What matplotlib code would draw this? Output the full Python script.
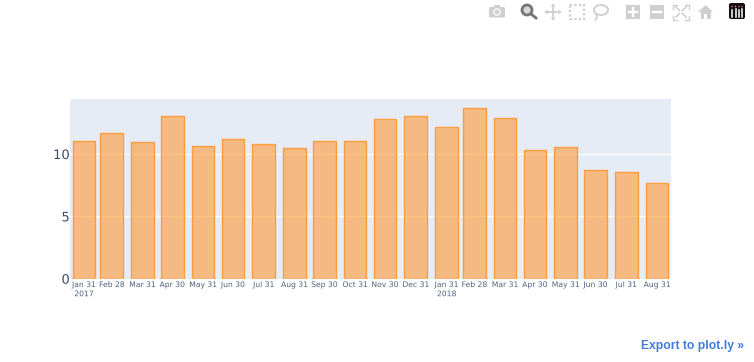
import matplotlib
matplotlib.use("Agg")
import matplotlib.pyplot as plt
import matplotlib.dates as mdates
import matplotlib.patheffects as pe
from matplotlib.patches import Rectangle, Circle, Polygon, FancyBboxPatch
from matplotlib.lines import Line2D
from matplotlib.transforms import blended_transform_factory, ScaledTranslation
import numpy as np
import pandas as pd

dates = ["2017-01-31","2017-02-28","2017-03-31","2017-04-30","2017-05-31","2017-06-30",
         "2017-07-31","2017-08-31","2017-09-30","2017-10-31","2017-11-30","2017-12-31",
         "2018-01-31","2018-02-28","2018-03-31","2018-04-30","2018-05-31","2018-06-30",
         "2018-07-31","2018-08-31"]
values = [11.02,11.66,10.96,13.02,10.64,11.18,10.78,10.50,11.07,11.02,12.81,13.02,
          12.14,13.69,12.89,10.32,10.59,8.69,8.56,7.65]
tick_labels = ["Jan 31","Feb 28","Mar 31","Apr 30","May 31","Jun 30","Jul 31","Aug 31",
               "Sep 30","Oct 31","Nov 30","Dec 31","Jan 31","Feb 28","Mar 31","Apr 30",
               "May 31","Jun 30","Jul 31","Aug 31"]
year_dates = ["2017-01-31", "2018-01-31"]
year_labels = ["2017", "2018"]
y_ticks = [0, 5, 10]

W, H = 754, 362
fig = plt.figure(figsize=(W/100, H/100), dpi=100, facecolor="white")
ax = fig.add_axes([70/W, 1-278.7/H, 601/W, 179.7/H], facecolor="#e5ecf6")

x = mdates.date2num(pd.to_datetime(dates))
ax.set_axisbelow(True)
ax.yaxis.grid(True, color="white", linewidth=1.0)
ax.xaxis.grid(False)
ax.bar(x, values, width=22.8, color=(1, 0.6, 0.2, 0.6),
       edgecolor=(1, 0.6, 0.2, 0.95), linewidth=1.0, zorder=3)
ax.set_xlim(x[0]-14, x[-1]+14)
ax.set_ylim(0, 14.41)
for s in ax.spines.values():
    s.set_visible(False)
ax.set_xticks(x)
ax.set_xticklabels(tick_labels, fontsize=5.5, color="#4f6280")
ax.set_yticks(y_ticks)
ax.set_yticklabels([str(v) for v in y_ticks], fontsize=9.4, color="#3a4d6b")
ax.tick_params(length=0, axis="both")
ax.tick_params(axis="x", pad=6.0)
ax.tick_params(axis="y", pad=0.2)
for lab in ax.get_xticklabels():
    lab.set_verticalalignment("baseline")
    lab.set_path_effects([pe.Normal()])
for lab in ax.get_yticklabels():
    lab.set_path_effects([pe.Normal()])

year_tr = blended_transform_factory(ax.transData, ax.transAxes) + \
    ScaledTranslation(0, -17.5/100, fig.dpi_scale_trans)
for yd, yl in zip(mdates.date2num(pd.to_datetime(year_dates)), year_labels):
    ax.text(yd, 0, yl, transform=year_tr, ha="center", va="baseline",
            fontsize=5.5, color="#4f6280", clip_on=False,
            path_effects=[pe.Normal()])

fig.text(744/W, 1-346.5/H, "Export to plot.ly »", ha="right", va="center",
         fontsize=8.7, color="#447adb", fontweight="bold", family="Liberation Sans")

# toolbar drawn in pixel coordinates
tb = fig.add_axes([0, 0, 1, 1], facecolor="none")
tb.set_xlim(0, W); tb.set_ylim(H, 0); tb.axis("off")
g = "#cfcfcf"; d = "#747474"
# camera
tb.add_patch(FancyBboxPatch((489, 7), 16, 10.5, boxstyle="round,pad=0,rounding_size=1.5", fc=g, ec="none"))
tb.add_patch(Rectangle((493.5, 5), 6, 2.5, fc=g, ec="none"))
tb.add_patch(Circle((497, 12), 3.8, fc="white", ec="none"))
tb.add_patch(Circle((497, 12), 2.5, fc=g, ec="none"))
# zoom
tb.add_patch(Circle((527, 10), 5, fc="#d8d8d8", ec=d, lw=2))
tb.add_line(Line2D([531, 536], [14, 18], color=d, lw=2))
# pan
tb.add_line(Line2D([546, 560], [12, 12], color=g, lw=1.3))
tb.add_line(Line2D([553, 553], [5, 19], color=g, lw=1.3))
for p in ([[553,3.5],[550.5,6.5],[555.5,6.5]],[[553,20.5],[550.5,17.5],[555.5,17.5]],
          [[544.5,12],[547.5,9.5],[547.5,14.5]],[[561.5,12],[558.5,9.5],[558.5,14.5]]):
    tb.add_patch(Polygon(p, fc=g, ec="none"))
# box select
tb.add_patch(Rectangle((570, 4.5), 14, 14, fc="none", ec=g, lw=1.6, ls=(0, (1, 1))))
# lasso
t = np.linspace(0, 2*np.pi, 50)
tb.plot(601+7*np.cos(t), 10+5*np.sin(t), color=g, lw=1.4)
tb.add_line(Line2D([596, 597, 595], [14, 18, 20], color=g, lw=1.2))
# plus / minus
for cx in (633, 657):
    tb.add_patch(Rectangle((cx-7, 5), 14, 14, fc=g, ec="none"))
    tb.add_line(Line2D([cx-4, cx+4], [12, 12], color="white", lw=1.7))
tb.add_line(Line2D([633, 633], [8, 16], color="white", lw=1.7))
# autoscale
for sx, sy in ((-1,-1),(1,-1),(-1,1),(1,1)):
    cx, cy = 681+sx*8, 12+sy*7.5
    tb.add_line(Line2D([cx, cx-sx*4], [cy, cy], color=g, lw=1))
    tb.add_line(Line2D([cx, cx], [cy, cy-sy*4], color=g, lw=1))
    tb.add_line(Line2D([681+sx*1.5, 681+sx*5], [12+sy*1.5, 12+sy*5], color=g, lw=1.2))
# home
tb.add_patch(Polygon([[698,12],[705.5,5],[713,12]], fc=g, ec="none"))
tb.add_patch(Rectangle((700.5, 12), 10, 6.5, fc=g, ec="none"))
tb.add_patch(Rectangle((704.3, 14), 2.4, 4.5, fc="white", ec="none"))
# plotly logo
tb.add_patch(FancyBboxPatch((729, 3), 16, 16, boxstyle="round,pad=0,rounding_size=2", fc="#111111", ec="none"))
for bx, top in ((732, 10), (735.5, 9), (739, 10), (742, 9)):
    tb.add_line(Line2D([bx, bx], [top, 16.5], color="white", lw=1.1))
for bx, col in ((732, "#ef553b"), (735.5, "#ff6692"), (739, "#ab63fa"), (742, "#ef553b")):
    tb.add_patch(Circle((bx, 6.5), 0.8, fc=col, ec="none"))

fig.savefig("out.png", dpi=100, facecolor="white")
